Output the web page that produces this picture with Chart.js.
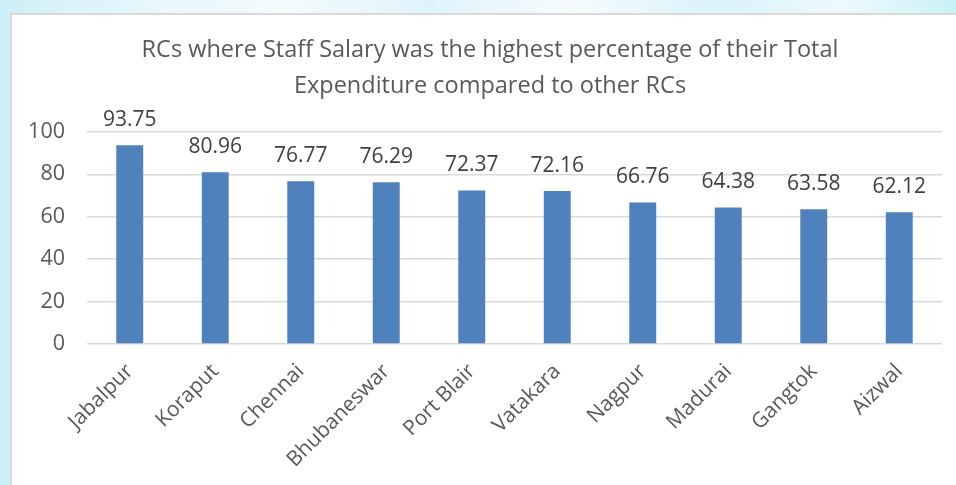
<!DOCTYPE html>
<html>
<head>
<meta charset="utf-8">
<script src="https://cdn.jsdelivr.net/npm/chart.js@4"></script>
<style>
  html, body { margin: 0; padding: 0; width: 956px; height: 485px; overflow: hidden; }
  body { background: linear-gradient(90deg, #cdeff8 0%, #e6f7fb 15%, #f3fbfd 30%, #dff4fa 45%, #f6fcfe 60%, #d8f3f9 75%, #eefafd 88%, #c9f1f7 100%); position: relative; }
  #frame { position: absolute; left: 10px; top: 13px; width: 960px; height: 480px; background: #fff; border-left: 2px solid #d9d9d9; border-top: 2px solid #d9d9d9; box-sizing: border-box; }
  #wrap { position: absolute; left: 0; top: 0; width: 958px; height: 478px; }
</style>
</head>
<body>
<div id="frame"><div id="wrap"><canvas id="c"></canvas></div></div>
<script>
const chartTitle = ["RCs where Staff Salary was the highest percentage of their Total", "Expenditure compared to other RCs"];
const categories = ["Jabalpur", "Koraput", "Chennai", "Bhubaneswar", "Port Blair", "Vatakara", "Nagpur", "Madurai", "Gangtok", "Aizwal"];
const staffSalaryPct = [93.75, 80.96, 76.77, 76.29, 72.37, 72.16, 66.76, 64.38, 63.58, 62.12];
const yTicks = [0, 20, 40, 60, 80, 100];

const FONT = "'Open Sans', 'Noto Sans', sans-serif";

const dataLabels = {
  id: 'dataLabels',
  afterDatasetsDraw(chart) {
    const ctx = chart.ctx;
    const meta = chart.getDatasetMeta(0);
    ctx.save();
    ctx.font = "21px " + FONT;
    ctx.fillStyle = "#404040";
    ctx.textAlign = "center";
    ctx.textBaseline = "middle";
    meta.data.forEach((bar, i) => {
      ctx.fillText(staffSalaryPct[i].toFixed(2), bar.x, bar.y - 25);
    });
    ctx.restore();
  }
};

new Chart(document.getElementById('c'), {
  type: 'bar',
  data: {
    labels: categories,
    datasets: [{
      data: staffSalaryPct,
      backgroundColor: '#4F81BD',
      borderWidth: 0,
      barPercentage: 0.63,
      categoryPercentage: 0.5
    }]
  },
  options: {
    responsive: true,
    maintainAspectRatio: false,
    animation: false,
    layout: { padding: { left: 26, right: 28, top: 0, bottom: 0 } },
    plugins: {
      legend: { display: false },
      tooltip: { enabled: false },
      title: {
        display: true,
        text: chartTitle,
        color: '#595959',
        font: { family: FONT, size: 23.5, weight: 'normal', lineHeight: 1.53 },
        padding: { top: 17, bottom: 28 }
      }
    },
    scales: {
      x: {
        grid: { display: false, drawTicks: false },
        border: { display: false },
        afterFit(scale) { scale.paddingLeft = 0; scale.paddingRight = 0; scale.height = 149; },
        ticks: {
          color: '#595959',
          font: { family: FONT, size: 21 },
          maxRotation: 45,
          minRotation: 45,
          autoSkip: false,
          padding: 15
        }
      },
      y: {
        min: 0,
        max: 100,
        afterBuildTicks(axis) { axis.ticks = yTicks.map(v => ({ value: v })); },
        afterFit(scale) { scale.width = 49; scale._computeLabelArea = () => undefined; },
        grid: { color: '#d9d9d9', lineWidth: 1.5, drawTicks: false },
        border: { display: false },
        ticks: {
          color: '#595959',
          font: { family: FONT, size: 21.5 },
          padding: 22
        }
      }
    }
  },
  plugins: [dataLabels]
});
</script>
</body>
</html>
